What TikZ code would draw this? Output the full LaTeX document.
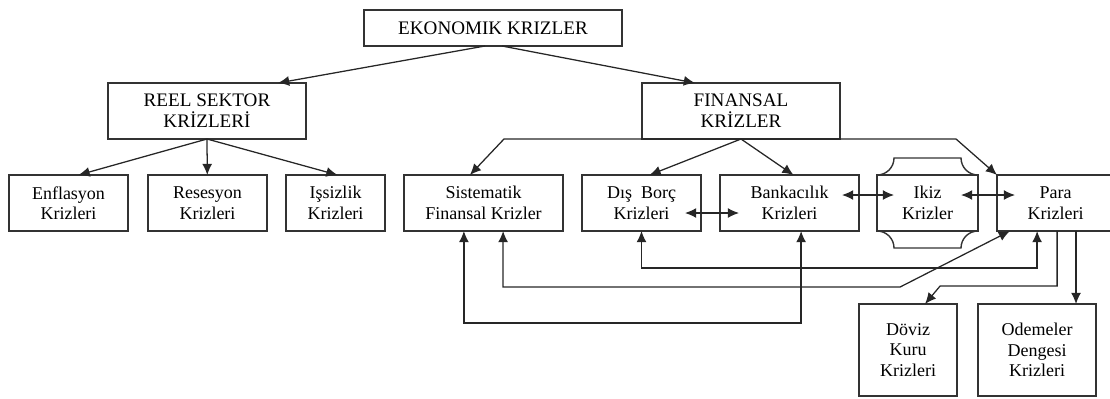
\documentclass[tikz,border=0pt]{standalone}
\usepackage{fontspec}
\setmainfont{Liberation Serif}
\usetikzlibrary{positioning, arrows.meta}

\begin{document}
\begin{tikzpicture}[
      box/.style={rectangle, draw=black!80, line width=1pt, outer sep=0pt,
                  inner sep=0pt, minimum height=14mm, align=center,
                  font=\fontsize{12.8pt}{14.5pt}\selectfont},
      head/.style={box, font=\fontsize{13.6pt}{15pt}\selectfont},
      flow/.style={draw=black!85, line width=0.9pt,
                   -{Latex[length=2.8mm,width=2.5mm]}},
      both/.style={flow,
                   {Latex[length=2.8mm,width=2.5mm]}-{Latex[length=2.8mm,width=2.5mm]}},
    ]

    \useasboundingbox (0,0) rectangle (277.5mm,-99.5mm);

    % ---- top levels ------------------------------------------------
    \node[head, minimum width=64.5mm, minimum height=9mm] (eko)
      at (123.25mm,-7mm) {EKONOMIK KRIZLER};
    \node[head, minimum width=49.5mm] (reel) at (51.75mm,-27.75mm)
      {REEL SEKTOR\\KRİZLERİ};
    \node[head, minimum width=49.5mm] (fin) at (185.25mm,-27.75mm)
      {FINANSAL\\KRİZLER};

    % ---- crisis row ------------------------------------------------
    \node[box, minimum width=29.75mm] (enf) at (17.125mm,-50.75mm)
      {Enflasyon\\Krizleri};
    \node[box, minimum width=29.75mm, right=5mm of enf] (res)
      {Resesyon\\Krizleri};
    \node[box, minimum width=24.75mm, right=4.75mm of res] (iss)
      {Işsizlik\\Krizleri};
    \node[box, minimum width=39.75mm, right=4.75mm of iss] (sis)
      {Sistematik\\Finansal Krizler};
    \node[box, minimum width=29.75mm, right=4.75mm of sis] (dis)
      {Dış~~Borç\\Krizleri};
    \node[box, minimum width=34.75mm, right=4.75mm of dis] (ban)
      {Bankacılık\\Krizleri};
    \node[box, minimum width=25.25mm, right=4.5mm of ban] (ikiz)
      {Ikiz\\Krizler};
    \node[box, minimum width=29.25mm, right=4.75mm of ikiz] (para)
      {Para\\Krizleri};

    % ---- currency sub-types ----------------------------------------
    \node[box, minimum width=24.5mm, minimum height=23mm] (doviz)
      at (227mm,-87.5mm) {Döviz\\Kuru\\Krizleri};
    \node[box, minimum width=29.5mm, minimum height=23mm,
          right=5.25mm of doviz] (ode) {Odemeler\\Dengesi\\Krizleri};

    % ---- plaque around ikiz ----------------------------------------
    \draw[draw=black!80, line width=1pt] (ikiz.north west)
      arc[start angle=-90, end angle=0, radius=4.25mm]
      -- ([xshift=-4.25mm, yshift=4.25mm]ikiz.north east)
      arc[start angle=180, end angle=270, radius=4.25mm];
    \draw[draw=black!80, line width=1pt] (ikiz.south west)
      arc[start angle=90, end angle=0, radius=4.25mm]
      -- ([xshift=-4.25mm, yshift=-4.25mm]ikiz.south east)
      arc[start angle=180, end angle=90, radius=4.25mm];

    % ---- tree ------------------------------------------------------
    \draw[flow] ([xshift=-2mm]eko.south) -- ([xshift=17.75mm]reel.north);
    \draw[flow] ([xshift=2.25mm]eko.south) -- ([xshift=-11.5mm]fin.north);

    \draw[flow] (reel.south) -- ([xshift=2.5mm]enf.north);
    \draw[flow] (reel.south) -- (res);
    \draw[flow] (reel.south) -- ([xshift=0.5mm]iss.north);

    \draw[flow] (fin.south) -- ([xshift=2mm]dis.north);
    \draw[flow] (fin.south) -- ([xshift=1mm]ban.north);

    \coordinate (finl) at ([xshift=-34.5mm]fin.south west);
    \coordinate (finr) at ([xshift=29mm]fin.south east);
    \draw[both] ([xshift=-3.4mm]sis.north) -- (finl) -- (finr)
      -- (para.north west);

    % ---- links inside the row --------------------------------------
    \draw[both] ([xshift=-4mm, yshift=-2.5mm]dis.east)
      -- ([xshift=4.75mm, yshift=-2.5mm]ban.west);
    \draw[both] ([xshift=-4.25mm, yshift=2mm]ban.east)
      -- ([xshift=4.25mm, yshift=2mm]ikiz.west);
    \draw[both] ([xshift=-4.25mm, yshift=2mm]ikiz.east)
      -- ([xshift=4.5mm, yshift=2mm]para.west);

    % ---- links below the row ---------------------------------------
    \draw[both] (dis.south) -- ++(0,-9.25mm) -| ([xshift=-4.6mm]para.south);
    \draw[both] ([xshift=4.9mm]sis.south) -- ++(0,-14mm) -- ++(99.25mm,0)
      -- ([xshift=-11.4mm]para.south);
    \draw[both] ([xshift=-4.9mm]sis.south) -- ++(0,-23mm)
      -| ([xshift=2.9mm]ban.south);

    % ---- para to its sub-types -------------------------------------
    \draw[flow] ([xshift=0.4mm]para.south) -- ++(0,-13.75mm)
      -- ++(-29.25mm,0) -- ([xshift=4.25mm]doviz.north);
    \coordinate (odein) at ([xshift=9.75mm]ode.north);
    \draw[flow] (para.south -| odein) -- (odein);

  \end{tikzpicture}
\end{document}
